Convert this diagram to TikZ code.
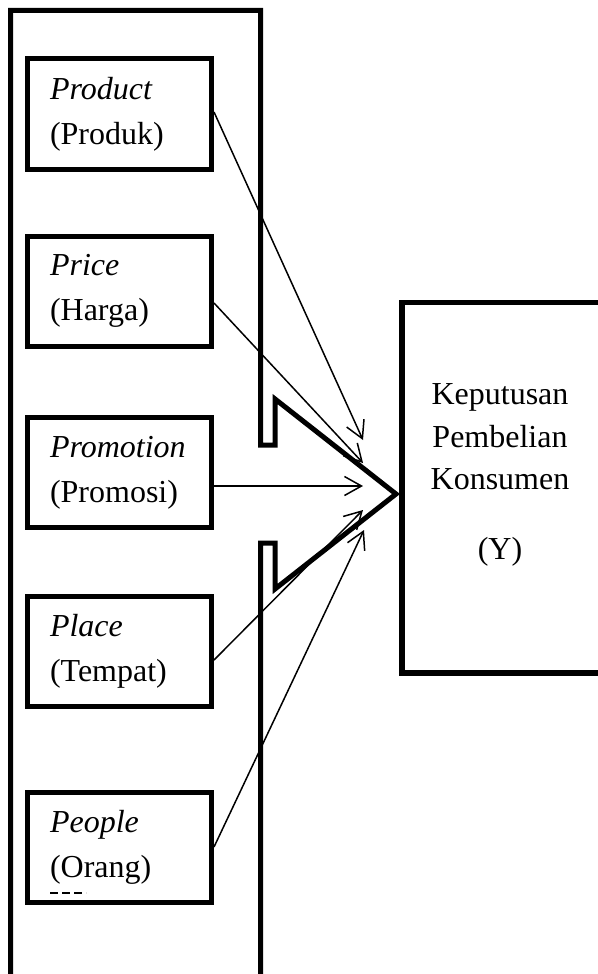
\documentclass[tikz,border=0pt]{standalone}
\usepackage{fontspec}
\setmainfont{Liberation Serif}
\usetikzlibrary{arrows.meta}

\begin{document}
\begin{tikzpicture}[x=0.5pt,y=-0.5pt,
  varbox/.style={draw, line width=2.5pt, minimum width=92pt, minimum height=55pt,
    text width=69.5pt, inner xsep=11.25pt, align=left,
    font=\fontsize{16}{22.5}\selectfont},
  link/.style={line width=0.75pt, -{Straight Barb[length=8.5pt,width=9.5pt]}}]
  \clip (0,0) rectangle (598,974);

  % Outer frame with the funnel
  \draw[line width=2.5pt, line join=miter] (260.5,1000) -- (260.5,543) -- (275,543)
    -- (275,589) -- (396,494) -- (275,399) -- (275,445) -- (260.5,445)
    -- (260.5,10.5) -- (10.5,10.5) -- (10.5,1000);

  % Dependent variable (box runs off the page)
  \draw[line width=2.75pt] (640,302.5) -- (402,302.5) -- (402,673) -- (640,673);
  \node[align=center, font=\fontsize{16}{21.25}\selectfont] (ytext) at (500,475)
    {Keputusan\\Pembelian\\Konsumen\\[13.75pt](Y)};

  % Marketing mix
  \node[varbox] (prod)  at (119.5,114)   {\textit{Product}\\(Produk)};
  \node[varbox] (price) at (119.5,291)   {\textit{Price}\\(Harga)};
  \node[varbox] (promo) at (119.5,472.5) {\textit{Promotion}\\(Promosi)};
  \node[varbox] (place) at (119.5,651)   {\textit{Place}\\(Tempat)};
  \node[varbox] (people) at (119.5,847)  {\textit{People}\\(Orang)};
  \draw[line width=0.6pt, dash pattern=on 4pt off 2pt] (50,893) -- (86,893);

  % Arrow ends at the funnel
  \coordinate (in1) at (363,440);
  \coordinate (in2) at (363,463);
  \coordinate (in3) at (363,486);
  \coordinate (in4) at (363,510);
  \coordinate (in5) at (364,530);

  \draw[link] ([yshift=1pt]prod.east) -- (in1);
  \draw[link] ([yshift=-6pt]price.east) -- (in2);
  \draw[link] ([yshift=-6.75pt]promo.east) -- (in3);
  \draw[link] ([yshift=-4.5pt]place.east) -- (in4);
  \draw[link] (people.east) -- (in5);
\end{tikzpicture}
\end{document}
